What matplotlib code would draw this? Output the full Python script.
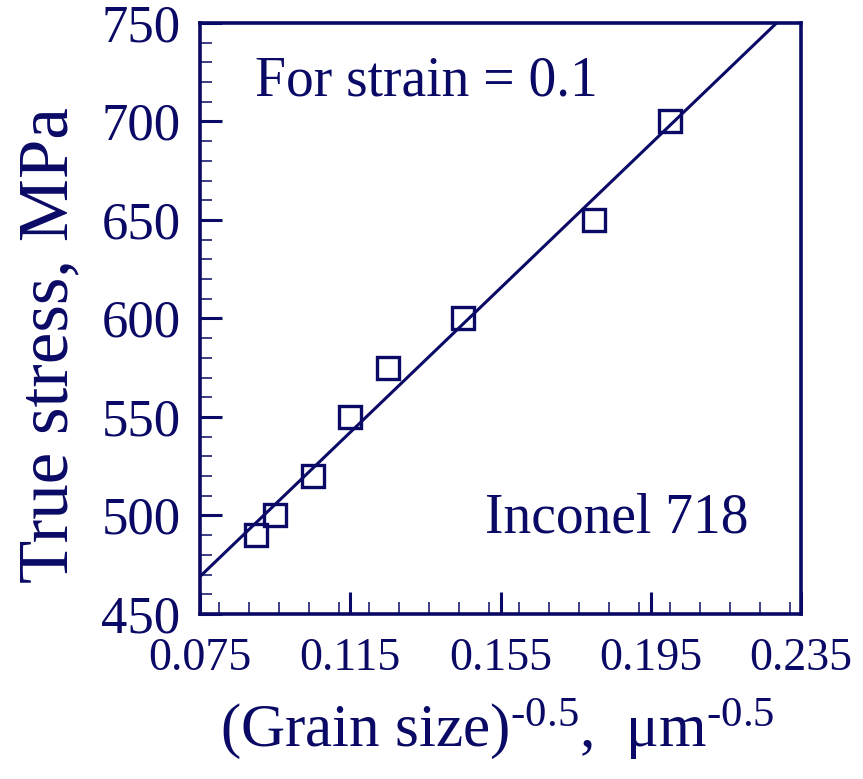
import numpy as np
import matplotlib
matplotlib.use('Agg')
import matplotlib.pyplot as plt
from matplotlib.ticker import MultipleLocator, FormatStrFormatter

# grain size^-0.5 (um^-0.5) and true stress (MPa) at strain = 0.1
d_inv_sqrt = [0.090, 0.095, 0.105, 0.115, 0.125, 0.145, 0.180, 0.200]
true_stress = [490, 500, 520, 550, 575, 600, 650, 700]

x_ticks = [0.075, 0.115, 0.155, 0.195, 0.235]
y_ticks = [450, 500, 550, 600, 650, 700, 750]

navy = '#0a0a66'

plt.rcParams['font.family'] = ['Liberation Serif', 'DejaVu Serif']
plt.rcParams['mathtext.fontset'] = 'custom'
plt.rcParams['mathtext.rm'] = 'Liberation Serif'
plt.rcParams['mathtext.default'] = 'regular'

fig = plt.figure(figsize=(8.63, 7.79), dpi=100)
ax = fig.add_axes([200/863, 1 - 614/779, 601/863, 591/779])

# Hall-Petch linear fit
slope, intercept = np.polyfit(d_inv_sqrt, true_stress, 1)
xf = np.array([x_ticks[0], x_ticks[-1]])
ax.plot(xf, intercept + slope*xf, color=navy, lw=2.2, zorder=2)

ax.plot(d_inv_sqrt, true_stress, linestyle='none', marker='s', ms=16.5,
        mfc='none', mec=navy, mew=2.4, zorder=3)

ax.set_xlim(x_ticks[0], x_ticks[-1])
ax.set_ylim(y_ticks[0], y_ticks[-1])
ax.set_xticks(x_ticks)
ax.set_yticks(y_ticks)
ax.xaxis.set_major_formatter(FormatStrFormatter('%.3f'))
ax.xaxis.set_minor_locator(MultipleLocator(0.008))
ax.yaxis.set_minor_locator(MultipleLocator(10))

ax.tick_params(which='both', direction='in', colors=navy, top=False, right=False)
ax.tick_params(which='major', length=16, width=2.2)
ax.tick_params(axis='x', which='major', labelsize=33, pad=17)
ax.tick_params(axis='y', which='major', labelsize=38, pad=14)
ax.tick_params(which='minor', length=8.5, width=1.1)
for sp in ax.spines.values():
    sp.set_color(navy)
    sp.set_linewidth(2.6)

ax.set_ylabel('True stress, MPa', fontsize=51, color=navy, va='center')
ax.yaxis.set_label_coords(-0.25, 0.455)
ax.set_xlabel(r'(Grain size)$^{\text{-0.5}}$,  $\mu$m$^{\text{-0.5}}$',
              fontsize=44, color=navy, va='center')
ax.xaxis.set_label_coords(0.494, -0.195)

ax.text(0.0915, 0.878, 'For strain = 0.1', transform=ax.transAxes,
        fontsize=40, color=navy, va='baseline', ha='left')
ax.text(0.912, 0.138, 'Inconel 718', transform=ax.transAxes,
        fontsize=40, color=navy, va='baseline', ha='right')

fig.savefig('out.png', dpi=100)
